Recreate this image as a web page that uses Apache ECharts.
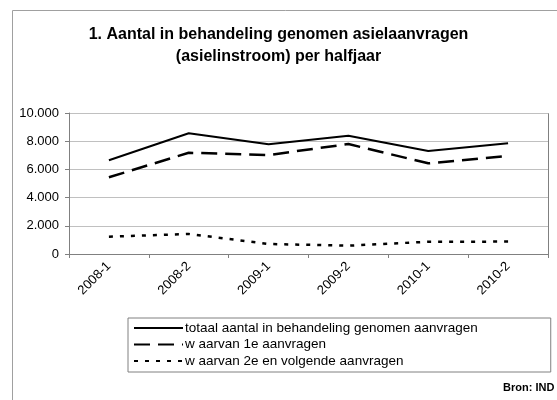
<!DOCTYPE html>
<html><head><meta charset="utf-8">
<script src="https://cdn.jsdelivr.net/npm/echarts@6/dist/echarts.min.js"></script>
<style>html,body{margin:0;padding:0;background:#fff}#c{width:557px;height:400px}</style>
</head><body><div id="c"></div>
<script>
const categories = ['2008-1','2008-2','2009-1','2009-2','2010-1','2010-2'];
const totaal = [6650, 8560, 7780, 8390, 7300, 7850];
const eerste = [5440, 7180, 7020, 7800, 6430, 6950];
const tweede = [1230, 1420, 710, 590, 870, 880];
const yTicks = [0, 2000, 4000, 6000, 8000, 10000];

const names = ['totaal aantal in behandeling genomen aanvragen','w aarvan 1e aanvragen','w aarvan 2e en volgende aanvragen'];
const fmt = v => String(v).replace(/\B(?=(\d{3})+(?!\d))/g, '.');
const FF = 'Liberation Sans, Arial, sans-serif';
const ch = echarts.init(document.getElementById('c'));
ch.setOption({
  animation: false,
  textStyle: {fontFamily: FF},
  graphic: [
    {type:'rect', shape:{x:12.5,y:10.5,width:560,height:400}, style:{fill:'none',stroke:'#a0a0a0',lineWidth:1}, silent:true},
    {type:'rect', shape:{x:69.5,y:113.5,width:479,height:141}, style:{fill:'none',stroke:'#808080',lineWidth:1}, silent:true},
    {type:'text', left:503, top:382, style:{text:'Bron: IND', font:'bold 11px ' + FF, fill:'#000'}}
  ],
  title: {
    text: '1. Aantal in behandeling genomen asielaanvragen\n(asielinstroom) per halfjaar',
    left: 'center', top: 19, itemGap: 0,
    textStyle: {fontSize: 16, fontWeight: 'bold', color: '#000', lineHeight: 22, fontFamily: FF}
  },
  grid: {left: 69, right: 9, top: 113, bottom: 146},
  legend: {
    orient: 'vertical', left: 128, top: 318,
    itemWidth: 49, itemHeight: 14, itemGap: 2.5,
    padding: [3, 73, 4, 5],
    borderColor: '#808080', borderWidth: 1,
    itemStyle: {opacity: 0},
    textStyle: {fontSize: 13.5, color: '#000', padding:[0,0,0,-3]},
    data: names
  },
  xAxis: {
    type: 'category', data: categories, boundaryGap: true,
    axisLine: {lineStyle: {color: '#808080'}},
    axisTick: {show: true, lineStyle: {color: '#808080'}, length: 4},
    axisLabel: {rotate: 45, color: '#000', fontSize: 13, margin: 10}
  },
  yAxis: {
    type: 'value', min: 0, max: 10000, interval: 2000,
    axisLine: {show: true, lineStyle: {color: '#808080'}},
    axisTick: {show: true, lineStyle: {color: '#808080'}, length: 4},
    splitLine: {lineStyle: {color: '#c0c0c0'}},
    axisLabel: {color: '#000', fontSize: 13, margin: 10, formatter: v => fmt(v)}
  },
  series: [
    {name: names[0], type: 'line', data: totaal, symbol: 'none', lineStyle: {color: '#000', width: 2, type: 'solid'}, itemStyle:{color:'#000'}},
    {name: names[1], type: 'line', data: eerste, symbol: 'none', lineStyle: {color: '#000', width: 2.5, type: [16, 8]}, itemStyle:{color:'#000'}},
    {name: names[2], type: 'line', data: tweede, symbol: 'none', lineStyle: {color: '#000', width: 2.5, type: [4, 7]}, itemStyle:{color:'#000'}}
  ]
});
</script></body></html>
